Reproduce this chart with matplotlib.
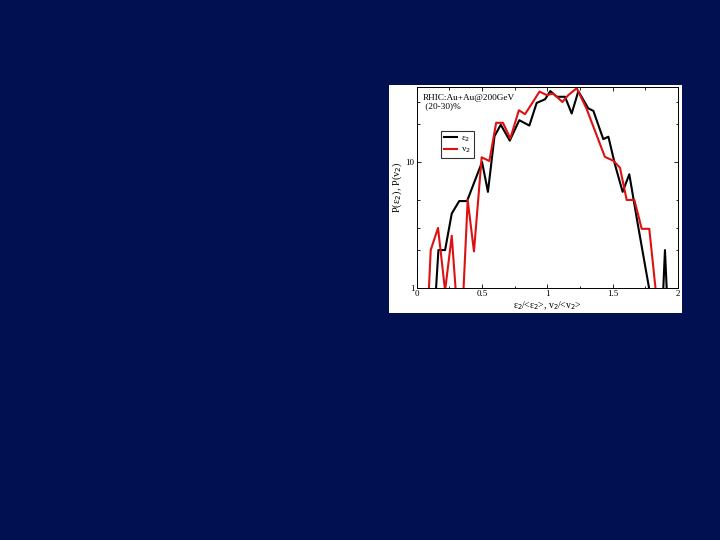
import matplotlib
matplotlib.use("Agg")
import matplotlib.pyplot as plt
from matplotlib.ticker import FixedLocator, NullFormatter

# epsilon_2 distribution (black)
eps_x = [0.13, 0.166, 0.217, 0.268, 0.325, 0.385, 0.5, 0.545, 0.595, 0.643,
         0.712, 0.785, 0.862, 0.918, 0.982, 1.022, 1.072, 1.135, 1.186, 1.237,
         1.313, 1.352, 1.428, 1.467, 1.518, 1.576, 1.627, 1.69, 1.786, 1.875,
         1.9, 1.926]
eps_y = [0.5, 2.0, 2.0, 3.9, 4.9, 4.9, 10.0, 5.8, 16.0, 19.8,
         14.8, 21.5, 19.5, 29.5, 31.5, 36.6, 33.0, 33.0, 24.3, 36.5,
         26.7, 25.5, 15.2, 15.9, 9.5, 5.8, 8.0, 3.3, 0.9, 0.5,
         2.0, 0.5]

# v_2 distribution (red)
v_x = [0.08, 0.107, 0.163, 0.217, 0.268, 0.318, 0.345, 0.39, 0.438, 0.497,
       0.556, 0.608, 0.66, 0.716, 0.782, 0.829, 0.94, 0.995, 1.045, 1.115,
       1.16, 1.225, 1.30, 1.44, 1.508, 1.556, 1.607, 1.666, 1.722, 1.78,
       1.832]
v_y = [0.5, 2.0, 3.0, 0.95, 2.6, 0.5, 0.5, 5.0, 1.95, 10.9,
       10.2, 20.5, 20.5, 15.4, 25.8, 24.0, 36.3, 34.0, 35.0, 30.0,
       34.0, 38.6, 26.5, 11.0, 10.2, 9.0, 5.0, 5.0, 2.95, 2.95,
       0.9]

x_ticks = [0, 0.5, 1, 1.5, 2]
x_tick_labels = ["0", "0.5", "1", "1.5", "2"]
y_ticks = [1, 10]
y_tick_labels = ["1", "10"]

BG = "#001050"
serif = ["Liberation Serif", "DejaVu Serif"]

fig = plt.figure(figsize=(7.2, 5.4), dpi=100)
fig.patch.set_facecolor(BG)

# white inset panel
panel = fig.add_axes([0.540, 0.4204, 0.407, 0.4222], zorder=-1)
panel.set_facecolor("white")
panel.set_xticks([])
panel.set_yticks([])
for s in panel.spines.values():
    s.set_visible(False)

ax = fig.add_axes([0.5788, 0.4667, 0.3629, 0.3723], zorder=1)
ax.set_facecolor("white")
ax.plot(eps_x, eps_y, color="black", lw=1.5, label="ε$_2$")
ax.plot(v_x, v_y, color="#dd1111", lw=1.5, label="v$_2$")
ax.set_yscale("log")
ax.set_xlim(0, 2)
ax.set_ylim(1, 39.5)

ax.set_xticks(x_ticks)
ax.set_xticklabels(x_tick_labels, fontfamily=serif, fontsize=6.5)
ax.xaxis.set_minor_locator(FixedLocator([0.25, 0.75, 1.25, 1.75]))
ax.yaxis.set_major_locator(FixedLocator(y_ticks))
ax.set_yticklabels(y_tick_labels, fontfamily=serif, fontsize=6.5)
ax.yaxis.set_minor_locator(FixedLocator([2, 3, 5, 20, 30]))
ax.yaxis.set_minor_formatter(NullFormatter())
ax.tick_params(which="both", direction="in", top=True, right=True, width=0.6, pad=1.5)
ax.tick_params(which="major", length=3)
ax.tick_params(which="minor", length=1.8)
for s in ax.spines.values():
    s.set_linewidth(0.7)

ax.set_xlabel("ε$_2$/<ε$_2$>, v$_2$/<v$_2$>", fontfamily=serif, fontsize=7, labelpad=1)
ax.set_ylabel("P(ε$_2$), P(v$_2$)", fontfamily=serif, fontsize=7.5, labelpad=1)

ax.text(0.025, 0.965, "RHIC:Au+Au@200GeV\n (20-30)%", transform=ax.transAxes,
        fontfamily=serif, fontsize=6.7, va="top", ha="left", linespacing=1.1)

leg = ax.legend(loc="upper left", bbox_to_anchor=(0.075, 0.805),
                frameon=True, fancybox=False, edgecolor="black", handlelength=1.4,
                handletextpad=0.5, borderpad=0.35, labelspacing=0.2,
                prop={"family": serif, "size": 6.5})
leg.get_frame().set_linewidth(0.8)

fig.savefig("out.png", dpi=100, facecolor=BG)
